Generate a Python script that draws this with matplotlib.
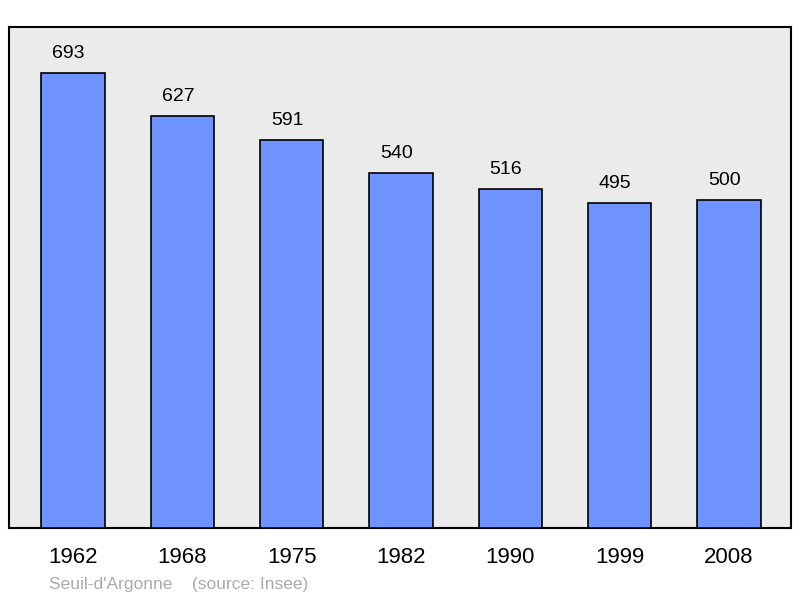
import matplotlib

matplotlib.use("Agg")
import matplotlib.pyplot as plt  # noqa: E402

years = ["1962", "1968", "1975", "1982", "1990", "1999", "2008"]
population = [693, 627, 591, 540, 516, 495, 500]

plt.rcParams["font.family"] = ["Liberation Sans", "DejaVu Sans"]

fig = plt.figure(figsize=(8, 5.98), dpi=100)
ax = fig.add_axes([9 / 800, 70 / 598, 782 / 800, 501 / 598])
ax.set_facecolor("#ebebeb")

x = range(len(years))
ax.bar(x, population, width=0.58, color="#7094ff", edgecolor="black",
       linewidth=1.2, zorder=3)
for i, v in zip(x, population):
    ax.text(i - 0.04, v + 17, str(v), ha="center", va="bottom", fontsize=14)

ax.set_xlim(-0.585, 6.567)
ax.set_ylim(0, 763)
ax.set_yticks([])
ax.set_xticks(list(x))
ax.set_xticklabels(years, fontsize=16)
ax.tick_params(axis="x", length=0, pad=14)
for s in ax.spines.values():
    s.set_linewidth(1.5)

fig.text(49 / 800, 1 - 584 / 598, "Seuil-d'Argonne    (source: Insee)",
         color="#aaaaaa", fontsize=12.5, va="center")

fig.savefig("out.png", dpi=100)
